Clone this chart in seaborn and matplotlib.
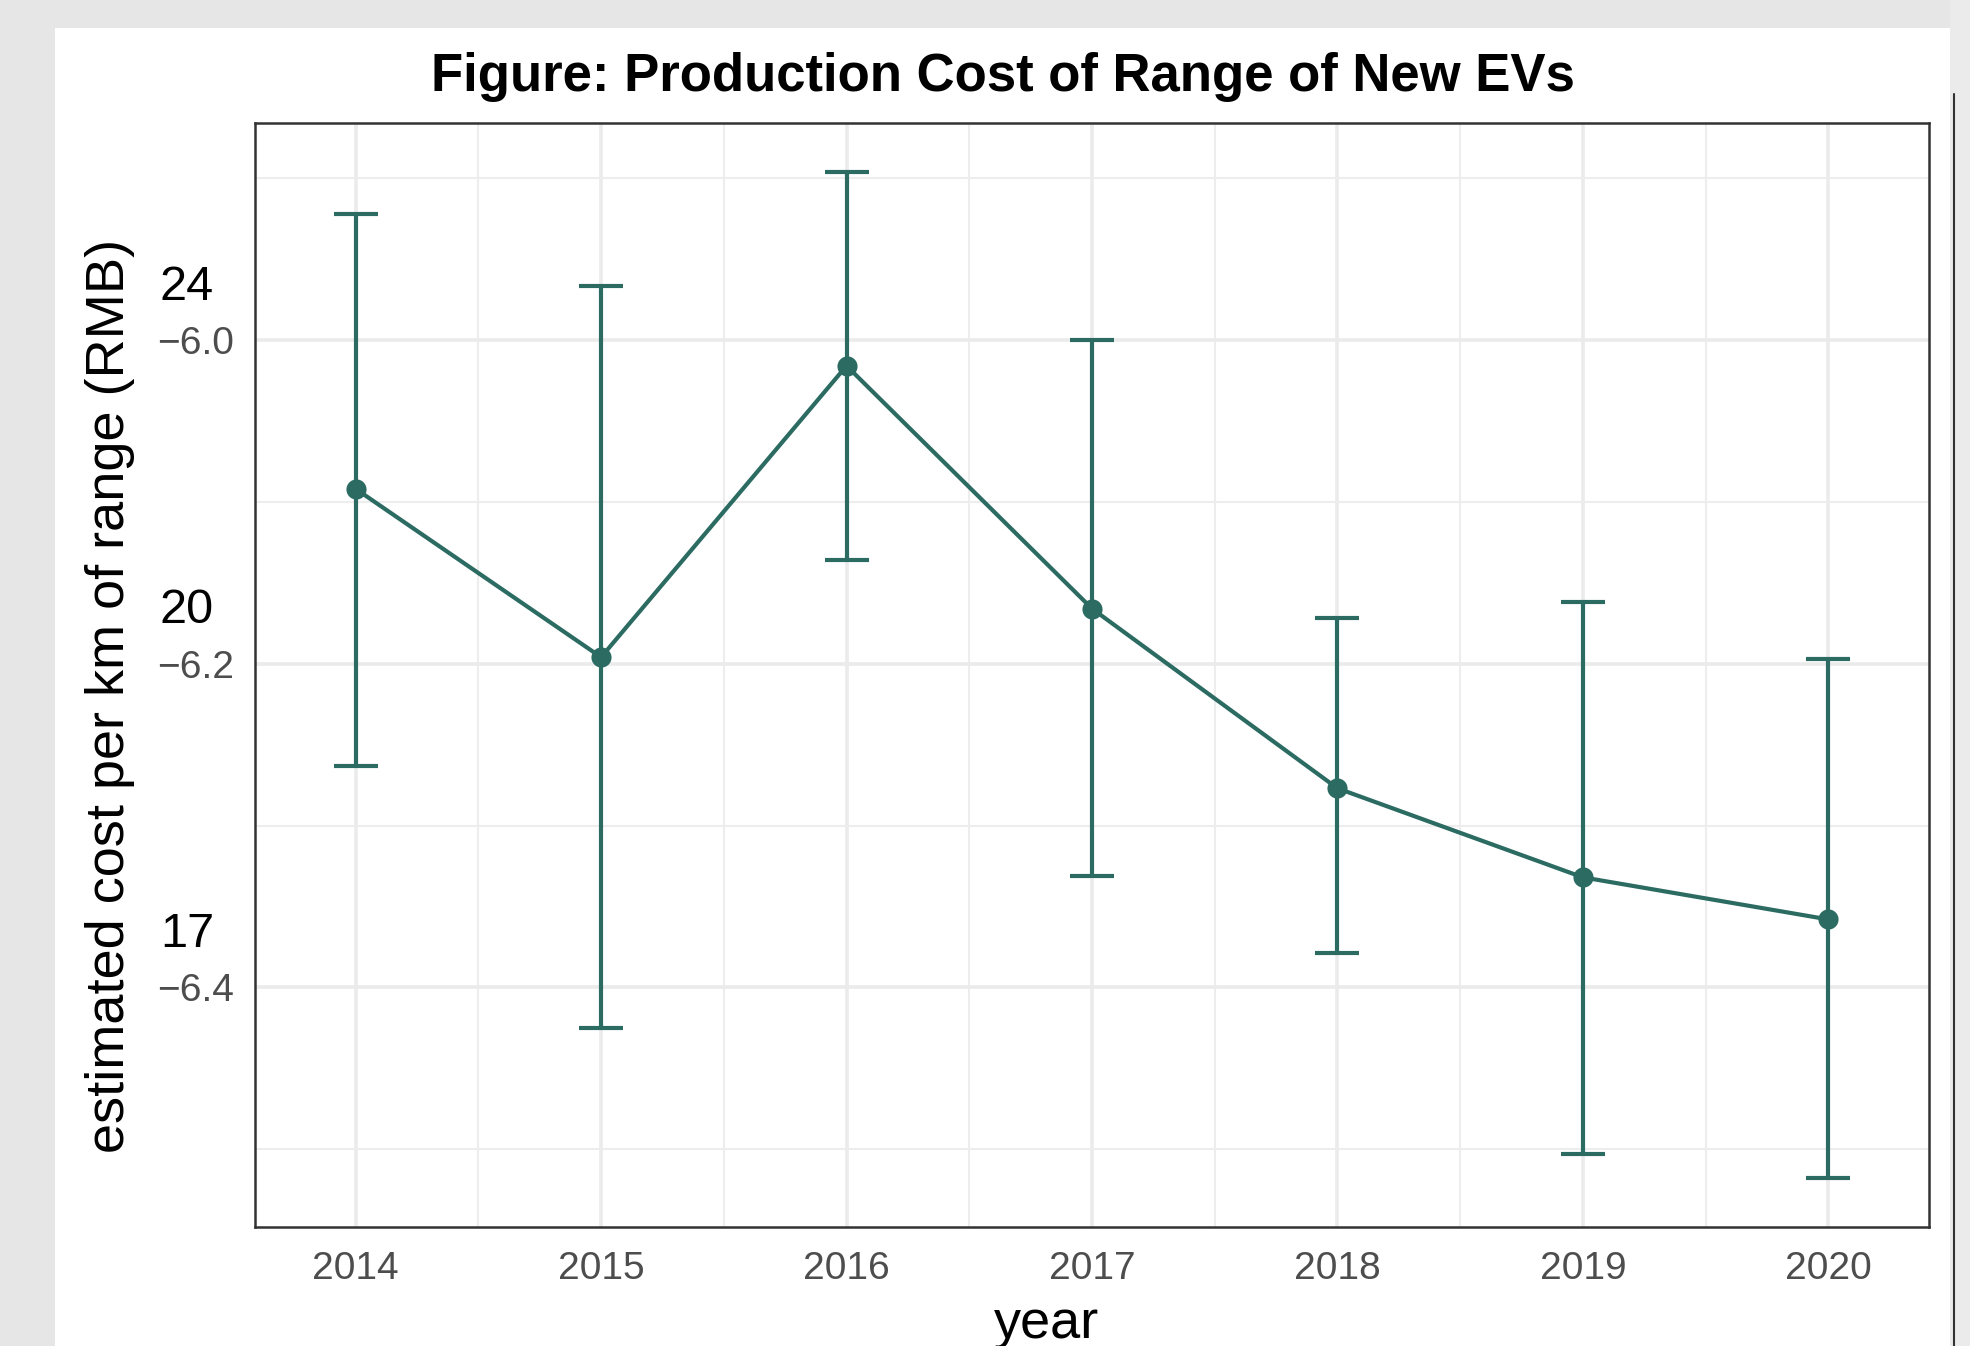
import matplotlib
matplotlib.use("Agg")
import matplotlib.pyplot as plt
import matplotlib.transforms as mtransforms
from matplotlib.patches import Rectangle
from matplotlib.lines import Line2D
import seaborn as sns
import pandas as pd

# ---- data ----
years = [2014, 2015, 2016, 2017, 2018, 2019, 2020]
estimate = [-6.092, -6.196, -6.016, -6.166, -6.277, -6.332, -6.358]
upper = [-5.922, -5.967, -5.896, -6.000, -6.172, -6.162, -6.197]
lower = [-6.263, -6.425, -6.136, -6.331, -6.379, -6.503, -6.518]
ytick_vals = [-6.0, -6.2, -6.4]
ytick_labels = ["\u22126.0", "\u22126.2", "\u22126.4"]
overlay_labels = ["24", "20", "17"]
title = "Figure: Production Cost of Range of New EVs"
xlabel = "year"
ylabel = "estimated cost per km of range (RMB)"

df = pd.DataFrame({"year": years, "estimate": estimate, "upper": upper, "lower": lower})

sns.set_theme(style="white")
plt.rcParams["font.family"] = ["Liberation Sans", "DejaVu Sans"]

W, H = 1970, 1346
fig = plt.figure(figsize=(W / 100, H / 100), dpi=100)
fig.patch.set_facecolor("#e6e6e6")

def px_rect(x0, y0, x1, y1, color):
    fig.patches.append(Rectangle((x0 / W, 1 - y1 / H), (x1 - x0) / W, (y1 - y0) / H,
                                 transform=fig.transFigure, facecolor=color,
                                 edgecolor="none", zorder=-10))

# white page
px_rect(55, 28, 1950, H, "white")
px_rect(0, 1163, 55, H, "#e6e6e6")
px_rect(1950, 0, W, H, "#ebebeb")
fig.lines.append(Line2D([1954 / W, 1954 / W], [1 - 94 / H, 0], transform=fig.transFigure,
                        color="#333333", lw=1.5, zorder=-9))

col = "#2b6b62"
ax = fig.add_axes([255 / W, 1 - 1227 / H, (1929 - 255) / W, (1227 - 123) / H])
ax.set_zorder(1)
ax.set_facecolor("white")

# grid
ax.set_xticks(years)
ax.set_xticks([y + 0.5 for y in years[:-1]], minor=True)
ax.set_yticks(ytick_vals)
ax.set_yticks([-5.9, -6.1, -6.3, -6.5], minor=True)
ax.grid(which="major", color="#ebebeb", lw=2.6, zorder=0)
ax.grid(which="minor", color="#ededed", lw=1.5, zorder=0)
ax.set_axisbelow(True)

yerr = [[e - l for e, l in zip(df["estimate"], df["lower"])],
        [u - e for e, u in zip(df["estimate"], df["upper"])]]
ax.errorbar(df["year"], df["estimate"], yerr=yerr, fmt="none", ecolor=col,
            elinewidth=3.0, capsize=16, capthick=3.0, zorder=3)
sns.lineplot(data=df, x="year", y="estimate", ax=ax, color=col, lw=3.0,
             marker="o", markersize=14.5, markeredgewidth=0, zorder=4)

ax.set_xlim(2013.59, 2020.41)
ax.set_ylim(-6.548, -5.866)
ax.set_xticklabels([str(y) for y in years])
ax.set_yticklabels(ytick_labels)
ax.tick_params(axis="both", which="major", direction="out", length=7, width=2.2,
               color="#333333", labelcolor="#4d4d4d", labelsize=28)
ax.tick_params(axis="x", pad=10)
ax.tick_params(axis="y", pad=8)
ax.tick_params(axis="both", which="minor", length=0)
for s in ax.spines.values():
    s.set_visible(True)
    s.set_color("#333333")
    s.set_linewidth(1.8)

ax.set_xlabel("")
ax.set_ylabel("")

# overlay labels above the y ticks
trans = mtransforms.blended_transform_factory(ax.transAxes, ax.transData)
for v, lab in zip(ytick_vals, overlay_labels):
    ax.annotate(lab, xy=(0, v), xycoords=trans, xytext=(-49, 38), textcoords="offset points",
                ha="center", va="center", fontsize=35, color="black", annotation_clip=False)

fig.text(1003 / W, 1 - 77 / H, title, ha="center", va="center", fontsize=38,
         fontweight="bold", color="black")
fig.text(110 / W, 1 - 696 / H, ylabel, rotation=90, ha="center", va="center",
         fontsize=39, color="black")
fig.text(1047 / W, 1 - 1338 / H, xlabel, ha="center", va="baseline", fontsize=39, color="black")

fig.savefig("out.png", dpi=100, facecolor=fig.get_facecolor())
